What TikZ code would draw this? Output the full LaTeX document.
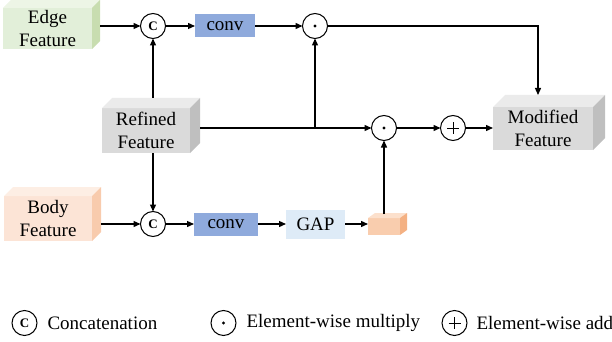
\documentclass[tikz,border=0pt]{standalone}
\usepackage{fontspec}
\setmainfont{Liberation Serif}
\usetikzlibrary{arrows.meta,calc}

\definecolor{edgeF}{HTML}{E2EFD9}
\definecolor{edgeT}{HTML}{EDF5E6}
\definecolor{edgeS}{HTML}{C8DDB0}
\definecolor{bodyF}{HTML}{FCE4D6}
\definecolor{bodyT}{HTML}{FDEEE4}
\definecolor{bodyS}{HTML}{F8CBAD}
\definecolor{grayF}{HTML}{DADADA}
\definecolor{grayT}{HTML}{EBEBEB}
\definecolor{grayS}{HTML}{BFBFBF}
\definecolor{peachF}{HTML}{F9CDAE}
\definecolor{peachT}{HTML}{FCE0CC}
\definecolor{peachS}{HTML}{F4B183}
\definecolor{convC}{HTML}{8FAADC}
\definecolor{gapC}{HTML}{DEEBF7}

% top and right faces of a box whose front face is node #1
\newcommand\slab[5]{%
  \fill[#4] (#1.north west) -- (#1.north east)
    -- ([shift={(#2,-#3)}]#1.north east) -- ([shift={(#2,-#3)}]#1.north west) -- cycle;
  \fill[#5] (#1.north east) -- ([shift={(#2,-#3)}]#1.north east)
    -- ([shift={(#2,-#3)}]#1.south east) -- (#1.south east) -- cycle;
}

\begin{document}
\begin{tikzpicture}[x=1pt,y=-1pt,
  lbl/.style={font=\fontsize{19}{23}\selectfont, align=center},
  cube/.style={lbl, inner sep=0pt, outer sep=0pt},
  flat/.style={lbl, inner sep=0pt, outer sep=0pt},
  op/.style={circle, draw, line width=1pt, minimum size=25pt, inner sep=0pt, outer sep=0pt},
  cat/.style={op, font=\fontsize{13}{13}\selectfont\bfseries},
  mul/.style={op, path picture={\fill (path picture bounding box.center) circle (1.7pt);}},
  add/.style={op, path picture={
      \draw[line width=0.8pt] ([shift={(-6,0)}]path picture bounding box.center) -- ([shift={(6,0)}]path picture bounding box.center);
      \draw[line width=0.8pt] ([shift={(0,-6)}]path picture bounding box.center) -- ([shift={(0,6)}]path picture bounding box.center);}},
  arr/.style={line width=1.3pt, -{Triangle[length=7pt,width=6pt]}}]
\useasboundingbox (0,0) rectangle (612,342);

% feature boxes
\node[cube, fill=edgeF, minimum width=89pt, minimum height=41pt] (edge) at (47.5,28.5) {Edge\\Feature};
\slab{edge}{8}{8}{edgeT}{edgeS}
\node[cube, fill=grayF, minimum width=88pt, minimum height=45pt] (ref) at (146,130.5) {Refined\\Feature};
\slab{ref}{10}{10}{grayT}{grayS}
\node[cube, fill=bodyF, minimum width=88pt, minimum height=45pt] (body) at (48,218.5) {Body\\Feature};
\slab{body}{9}{9}{bodyT}{bodyS}
\node[cube, fill=grayF, minimum width=100pt, minimum height=43pt] (mod) at (543,128.5) {Modified\\Feature};
\slab{mod}{12}{12}{grayT}{grayS}
\node[cube, fill=peachF, minimum width=32pt, minimum height=17pt] (sb) at (384,226.5) {};
\slab{sb}{7}{5}{peachT}{peachS}

% operators and blocks
\node[cat] (c1) at (153,26) {C};
\node[flat, fill=convC, minimum width=60pt, minimum height=23pt] (conv1) at (225,26) {conv};
\node[mul] (m1) at (315,26) {};
\node[mul] (m2) at (384,128) {};
\node[add] (pl) at (453,128) {};
\node[cat] (c2) at (153,224) {C};
\node[flat, fill=convC, minimum width=64pt, minimum height=23pt] (conv2) at (226,224) {conv};
\node[flat, fill=gapC, minimum width=59pt, minimum height=29pt] (gap) at (315.5,224) {GAP};

% connector end points on the box faces
\coordinate (edgeout) at ([shift={(8,0)}]edge.east);
\coordinate (bodyout) at ([shift={(9,0)}]body.east);
\coordinate (refout) at ([shift={(10,0)}]ref.east);
\coordinate (reftop) at ([shift={(0,-10)}]ref.north);
\coordinate (modtop) at ([shift={(-5,-12)}]mod.north);
\coordinate (sbtop) at ([shift={(0,-4)}]sb.north);

% connectors
\draw[arr] (edgeout |- c1) -- (c1);
\draw[arr] (c1) -- (conv1);
\draw[arr] (conv1) -- (m1);
\draw[arr] (m1) -| (modtop);
\draw[arr] (c1 |- reftop) -- (c1);
\draw[arr] (c1 |- ref.south) -- (c2);
\draw[arr] (refout |- m2) -- (m2);
\draw[arr] (m1 |- m2) -- (m1);
\draw[arr] (m2) -- (pl);
\draw[arr] (pl) -- (pl -| mod.west);
\draw[arr] (bodyout |- c2) -- (c2);
\draw[arr] (c2) -- (conv2);
\draw[arr] (conv2) -- (gap);
\draw[arr] (gap) -- (gap -| sb.west);
\draw[arr] (sbtop) -- (m2);

% legend
\node[cat] (lc) at (24.5,323) {C};
\node[lbl, anchor=west] (lct) at (44,323) {Concatenation};
\node[mul] (lm) at (223.5,323) {};
\node[lbl, anchor=west] (lmt) at (243,323) {Element-wise multiply};
\node[add] (la) at (454.5,323) {};
\node[lbl, anchor=west] (lat) at (473,323) {Element-wise add};
\end{tikzpicture}
\end{document}
